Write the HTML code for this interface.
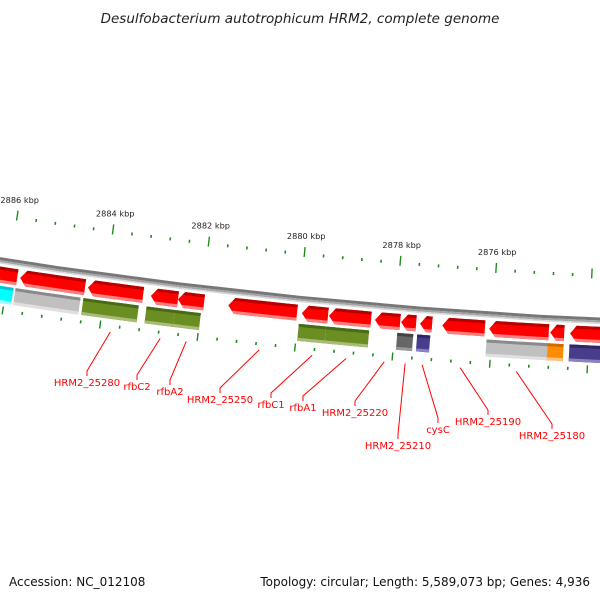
<!DOCTYPE html>
<html><head><meta charset="utf-8"><style>
html,body{margin:0;padding:0;background:#fff;}
svg{display:block;}
text{font-family:"DejaVu Sans","Liberation Sans",sans-serif;}
</style></head>
<body>
<svg id="map" width="600" height="600" viewBox="0 0 600 600" xmlns="http://www.w3.org/2000/svg">
<text x="300" y="23" text-anchor="middle" font-size="13.5" font-style="italic" fill="#222">Desulfobacterium autotrophicum HRM2, complete genome</text>
<g id="ticks-g"></g>
<g id="backbone-g"></g>
<g id="genes-g"></g>
<g id="feat-g"></g>
<g id="labels-g"></g>
<text x="9" y="586" font-size="12" fill="#111">Accession: NC_012108</text>
<text x="590" y="586" text-anchor="end" font-size="12" fill="#111">Topology: circular; Length: 5,589,073 bp; Genes: 4,936</text>
</svg>
<script>
// ---- data (kbp) ----
const geneStarts = [2886.6, 2885.75, 2884.35, 2883.05, 2882.49, 2881.45, 2879.93, 2879.37, 2878.42, 2877.88, 2877.49, 2877.03, 2876.06, 2874.80, 2874.39];
const geneEnds   = [2885.81, 2884.41, 2883.21, 2882.49, 2881.95, 2880.03, 2879.39, 2878.50, 2877.90, 2877.57, 2877.24, 2876.15, 2874.83, 2874.51, 2873.5];
const featStarts = [2886.6, 2885.81, 2884.41, 2883.11, 2882.53, 2879.97, 2879.41, 2877.94, 2877.53, 2876.10, 2874.84, 2874.39];
const featEnds   = [2885.85, 2884.47, 2883.27, 2882.53, 2881.99, 2879.41, 2878.52, 2877.61, 2877.26, 2874.84, 2874.51, 2873.5];
const featTypes  = ["cyan", "gray", "green", "green", "green", "green", "green", "dark", "slate", "gray", "orange", "slate"];
const labelNames = ["HRM2_25280", "rfbC2", "rfbA2", "HRM2_25250", "rfbC1", "rfbA1", "HRM2_25220", "HRM2_25210", "cysC", "HRM2_25190", "HRM2_25180"];
const labelKbp   = [2883.776, 2882.752, 2882.219, 2880.722, 2879.635, 2878.939, 2878.159, 2877.729, 2877.38, 2876.601, 2875.452];
const labelTextX = [87, 137, 170, 220, 271, 303, 355, 398, 438, 488, 552];
const labelTextY = [386, 390, 395, 403, 408, 411, 416, 449, 433, 425, 439];
const tickMin = 2873.2, tickMax = 2886.8, tickStep = 0.4, majorEvery = 2;

// ---- geometry ----
const R = 5618, CX = 862, CY = 327 - R;
const NS = "http://www.w3.org/2000/svg";
function theta(k){ const xu = 17 + (2886 - k) * 47.9; return Math.asin((xu - CX) / (R - 45)); }
function pt(k, r){ const t = theta(k); return [CX + r * Math.sin(t), CY + r * Math.cos(t)]; }
function arc(k1, k2, r, n){ const a = []; for (let i = 0; i <= n; i++) a.push(pt(k1 + (k2 - k1) * i / n, r)); return a; }
function poly(g, pts, fill){ const p = document.createElementNS(NS, "polygon"); p.setAttribute("points", pts.map(q => q[0].toFixed(2) + "," + q[1].toFixed(2)).join(" ")); p.setAttribute("fill", fill); g.appendChild(p); return p; }
function band(k1, k2, a, b){ return arc(k1, k2, a, 6).concat(arc(k2, k1, b, 6)); }
function arrowBand(s, e, r1, r2, a, b){
  const head = 0.13, rm = (r1 + r2) / 2, h = (r2 - r1) / 2;
  const hb = Math.min(head, (s - e) * 0.6);
  const lk = r => s - hb * Math.abs(r - rm) / h;
  const pts = arc(lk(a), e, a, 6).concat(arc(e, lk(b), b, 6));
  if (a < rm && b > rm) pts.push(pt(s, rm));
  return pts;
}

// ---- ruler ticks ----
const tg = document.getElementById("ticks-g");
for (let k = tickMax; k >= tickMin - 1e-6; k -= tickStep) {
  const kk = Math.round(k * 10) / 10;
  const major = Math.abs(kk / majorEvery - Math.round(kk / majorEvery)) < 1e-6;
  [[-45, -52, -42], [49, 45, 53]].forEach(([rc, ra, rb]) => {
    let p;
    if (major) p = poly(tg, band(kk + 0.014, kk - 0.014, R + ra, R + rb), "#1a8a1a");
    else p = poly(tg, band(kk + 0.016, kk - 0.016, R + rc - 1.5, R + rc + 1.5), "#1a8a1a");
    
    
  });
  if (major) {
    const q = pt(kk, R - 63);
    if (q[0] > 570) continue;
    const t = document.createElementNS(NS, "text");
    t.setAttribute("x", q[0].toFixed(1)); t.setAttribute("y", (q[1] + 3).toFixed(1));
    t.setAttribute("text-anchor", "middle"); t.setAttribute("font-size", "8.2"); t.setAttribute("fill", "#222");
    t.textContent = kk + " kbp";
    
    
    tg.appendChild(t);
  }
}

// ---- backbone ----
const bg = document.getElementById("backbone-g");
poly(bg, band(2887.5, 2872.5, R - 3, R), "#777");
poly(bg, band(2887.5, 2872.5, R, R + 2), "#a5a5a5");
poly(bg, band(2887.5, 2872.5, R + 2, R + 3.5), "#d8d8d8");

// ---- genes ----
const gg = document.getElementById("genes-g");
const g1 = R + 6, g2 = R + 22;
for (let i = 0; i < geneStarts.length; i++) {
  const s = geneStarts[i], e = geneEnds[i];
  const grp = document.createElementNS(NS, "g");
  
  
  poly(grp, arrowBand(s, e, g1, g2, g1, g2), "#ff0000");
  poly(grp, arrowBand(s, e, g1, g2, g1, g1 + 3), "#b80000");
  poly(grp, arrowBand(s, e, g1, g2, g2 - 3, g2), "#ff7f7f");
  gg.appendChild(grp);
}

// ---- feature track ----
const fg = document.getElementById("feat-g");
const colors = {cyan:["#00ffff","#00c8d0","#9ff"], gray:["#c0c0c0","#8a8a8a","#e0e0e0"], green:["#6b8e23","#4a6a16","#a8bb78"], dark:["#666","#444","#999"], slate:["#483d8b","#2e2766","#8a82c0"], orange:["#ff8c00","#d06a00","#ffc080"]};
const f1 = R + 25, f2 = R + 42;
for (let i = 0; i < featStarts.length; i++) {
  const c = colors[featTypes[i]];
  const grp = document.createElementNS(NS, "g");
  
  
  poly(grp, band(featStarts[i], featEnds[i], f1, f2), c[0]);
  poly(grp, band(featStarts[i], featEnds[i], f1, f1 + 3), c[1]);
  poly(grp, band(featStarts[i], featEnds[i], f2 - 3, f2), c[2]);
  fg.appendChild(grp);
}

// ---- labels ----
const lg = document.getElementById("labels-g");
for (let i = 0; i < labelNames.length; i++) {
  const p = pt(labelKbp[i], R + 55);
  const ln = document.createElementNS(NS, "polyline");
  const tx = labelTextX[i], ty = labelTextY[i] - 10;
  ln.setAttribute("points", p[0].toFixed(1) + "," + p[1].toFixed(1) + " " + tx + "," + (ty - 5) + " " + tx + "," + ty);
  ln.setAttribute("fill", "none"); ln.setAttribute("stroke", "#ff0000"); ln.setAttribute("stroke-width", "1");
  
  
  lg.appendChild(ln);
  const t = document.createElementNS(NS, "text");
  t.setAttribute("x", tx); t.setAttribute("y", labelTextY[i]);
  t.setAttribute("text-anchor", "middle"); t.setAttribute("font-size", "10"); t.setAttribute("fill", "#ff0000");
  t.textContent = labelNames[i];
  
  
  lg.appendChild(t);
}
</script>
</body></html>
